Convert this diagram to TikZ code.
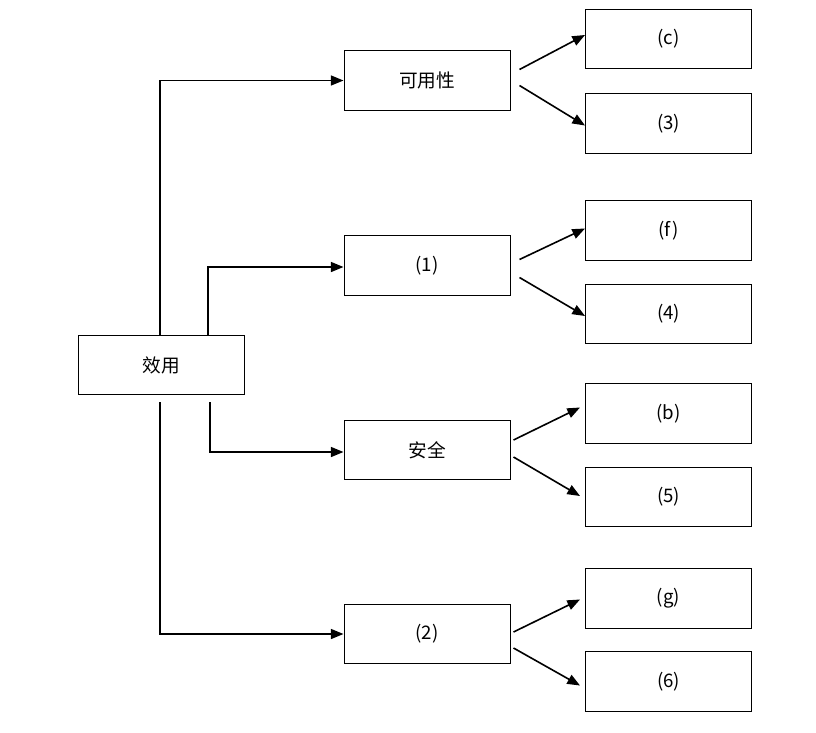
\documentclass[tikz,border=0pt]{standalone}
\usepackage{fontspec}
\setmainfont{Noto Sans CJK SC}
\usetikzlibrary{arrows.meta,calc}
\begin{document}
\begin{tikzpicture}[x=0.75pt,y=-0.75pt,
  box/.style={draw, line width=0.75pt, minimum width=124.5pt, minimum height=44.5pt, inner sep=0pt,
    font=\fontsize{14pt}{17pt}\selectfont},
  conn/.style={line width=1.2pt, -{Triangle[length=9.5pt,width=7.5pt]}}]
\useasboundingbox (0,0) rectangle (816,732);
\fill[white] (0,0) rectangle (816,732);
% left
\node[box] (u) at (161,365) {效用};
% middle
\node[box] (a)  at (427,80.5) {可用性};
\node[box] (p1) at (427,265.5) {(1)};
\node[box] (s)  at (427,450) {安全};
\node[box] (p2) at (427,634) {(2)};
% right
\node[box] (c)  at (668.5,39) {(c)};
\node[box] (r3) at (668.5,123.5) {(3)};
\node[box] (f)  at (668.5,230.5) {(f)};
\node[box] (r4) at (668.5,314) {(4)};
\node[box] (b)  at (668.5,413.5) {(b)};
\node[box] (r5) at (668.5,497) {(5)};
\node[box] (g)  at (668.5,598.5) {(g)};
\node[box] (r6) at (668.5,681.5) {(6)};
% elbow connectors
\draw[conn] ($(u.north)+(-1,0)$) |- (a.west);
\draw[conn] ($(u.north)+(47,0)$) |- ($(p1.west)+(0,1.5)$);
\draw[conn] ($(u.south)+(49,7)$) |- ($(s.west)+(0,2)$);
\draw[conn] ($(u.south)+(-1,7)$) |- (p2.west);
% start points of fan-out arrows
\coordinate (a1) at ($(a.east)+(9,-11)$);
\coordinate (a2) at ($(a.east)+(9,5)$);
\coordinate (q1) at ($(p1.east)+(9,-6)$);
\coordinate (q2) at ($(p1.east)+(9,12)$);
\coordinate (s1) at ($(s.east)+(3,-10)$);
\coordinate (s2) at ($(s.east)+(3,7)$);
\coordinate (t1) at ($(p2.east)+(3,-2)$);
\coordinate (t2) at ($(p2.east)+(3,14)$);
% fan-out arrows
\draw[conn] (a1) -- ($(c.west)+(0,-4)$);
\draw[conn] (a2) -- ($(r3.west)+(0,2)$);
\draw[conn] (q1) -- ($(f.west)+(0,-2)$);
\draw[conn] (q2) -- ($(r4.west)+(0,2)$);
\draw[conn] (s1) -- ($(b.west)+(-5,-6)$);
\draw[conn] (s2) -- ($(r5.west)+(-5,-1)$);
\draw[conn] (t1) -- ($(g.west)+(-5,1)$);
\draw[conn] (t2) -- ($(r6.west)+(-5,4)$);
\end{tikzpicture}
\end{document}
